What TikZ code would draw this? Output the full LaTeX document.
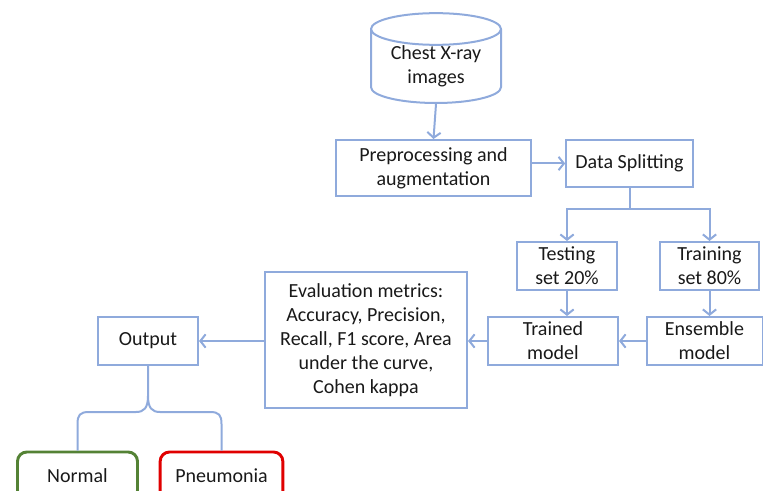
\documentclass[tikz,border=0pt]{standalone}
\usepackage{fontspec}
\setmainfont{Carlito}
\usetikzlibrary{shapes.geometric,arrows.meta}
\definecolor{lineblue}{HTML}{8FAADC}
\definecolor{normalgreen}{HTML}{548235}
\definecolor{pneured}{HTML}{E00000}
\tikzset{
  box/.style={draw=lineblue, line width=1.5pt, align=center, inner sep=0pt,
    text=black!90, font=\fontsize{15}{18}\selectfont},
  classbox/.style={draw=#1, line width=2.2pt, rounded corners=7pt, align=center,
    inner sep=0pt, text=black!90, font=\fontsize{15}{18}\selectfont},
  link/.style={draw=lineblue, line width=1.5pt},
  flow/.style={link, -{Straight Barb[length=4pt,width=10pt]}}
}
\begin{document}
\begin{tikzpicture}[x=0.75pt,y=-0.75pt]
    \useasboundingbox (0,0) rectangle (763,491);
    % Datos de entrada
    \node[box, cylinder, shape border rotate=90, aspect=0.35,
          minimum width=97.5pt, minimum height=65.5pt] (xray) at (436,66.5) {Chest X-ray\\images};
    \node[box, minimum width=146pt, minimum height=42pt] (prep) at (433.5,168) {Preprocessing and\\augmentation};
    \node[box, minimum width=95pt, minimum height=35pt] (split) at (629.5,163.5) {Data Splitting};
    % Conjuntos
    \node[box, minimum width=75pt, minimum height=36pt] (test) at (567,266) {Testing\\set 20\%};
    \node[box, minimum width=74pt, minimum height=36pt] (train) at (709.5,266) {Training\\set 80\%};
    % Modelos
    \node[box, minimum width=97.5pt, minimum height=36pt] (trained) at (553,341) {Trained\\model};
    \node[box, minimum width=87pt, minimum height=36pt] (ensemble) at (704.5,341) {Ensemble\\model};
    \node[box, minimum width=151.5pt, minimum height=102pt] (eval) at (366,340)
        {Evaluation metrics:\\Accuracy, Precision,\\Recall, F1 score, Area\\under the curve,\\Cohen kappa};
    \node[box, minimum width=75pt, minimum height=36pt] (output) at (148,341) {Output};
    % Clases
    \node[classbox=normalgreen, minimum width=90pt, minimum height=36pt] (normal) at (77.5,476) {Normal};
    \node[classbox=pneured, minimum width=92pt, minimum height=36pt] (pneumonia) at (221.5,476) {Pneumonia};
    % Flechas
    \draw[flow] (xray.south) -- (prep.north);
    \draw[flow] (prep.east |- split.west) -- (split.west);
    \draw[flow] (split.south) -- ++(0,21) -| (test.north);
    \draw[flow] (split.south) -- ++(0,21) -| (train.north);
    \draw[flow] (test.south) -- (test.south |- trained.north);
    \draw[flow] (train.south) -- (train.south |- ensemble.north);
    \draw[flow] (ensemble.west) -- (trained.east);
    \draw[flow] (trained.west) -- (eval.east |- trained.west);
    \draw[flow] (eval.west |- output.east) -- (output.east);
    % Llave de salida
    \draw[link] (output.south) -- (148,396) .. controls (148,408) and (144,412) .. (136,412)
        -- (89,412) .. controls (80,412) and (77.5,415) .. (77.5,424) -- (normal.north);
    \draw[link] (148,396) .. controls (148,408) and (152,412) .. (160,412)
        -- (210,412) .. controls (219,412) and (221.5,415) .. (221.5,424) -- (pneumonia.north);
\end{tikzpicture}
\end{document}
